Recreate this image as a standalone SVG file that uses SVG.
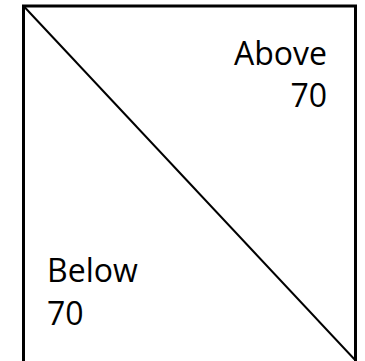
<svg xmlns="http://www.w3.org/2000/svg" width="365" height="361" viewBox="0 0 365 361">
<style>
.lbl{font-family:"Open Sans","Liberation Sans",sans-serif;font-size:32px;fill:#000}
.edge{stroke:#000;fill:none}
</style>
<rect width="365" height="361" fill="#fff"/>
<g id="frame">
<path class="edge" stroke-width="3" d="M23.5,362 V6 H355.5 V362"/>
</g>
<g id="connectors">
<line class="edge" stroke-width="2" x1="24" y1="6.5" x2="356" y2="361"/>
</g>
<g id="above">
<text class="lbl" text-anchor="end"><tspan x="327" y="65">Above</tspan><tspan x="327" y="107">70</tspan></text>
</g>
<g id="below">
<text class="lbl"><tspan x="47" y="282">Below</tspan><tspan x="47" y="325">70</tspan></text>
</g>
</svg>
